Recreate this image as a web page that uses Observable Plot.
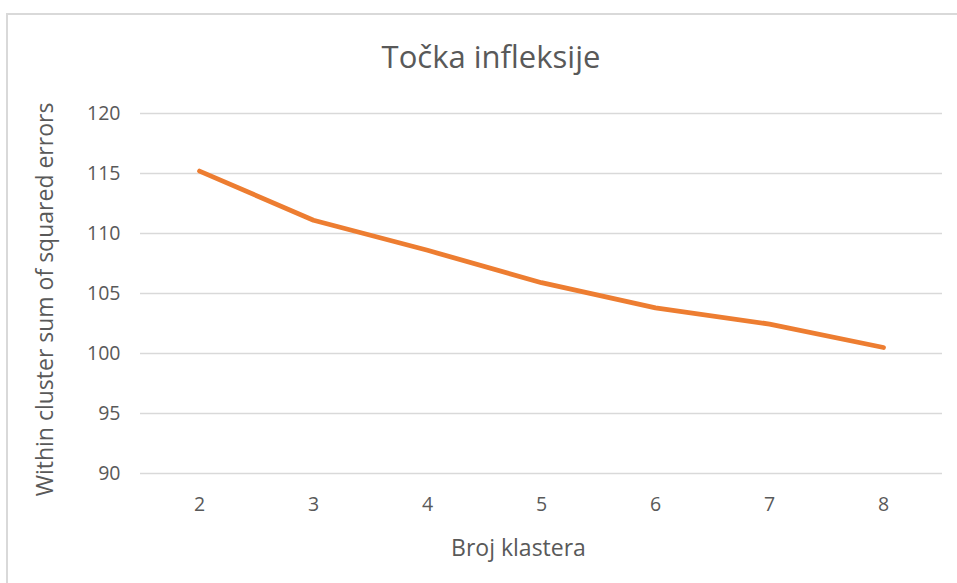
<!DOCTYPE html>
<html>
<head>
<meta charset="utf-8">
<script src="https://cdn.jsdelivr.net/npm/d3@7"></script>
<script src="https://cdn.jsdelivr.net/npm/@observablehq/plot@0.6"></script>
<style>
  html, body { margin: 0; padding: 0; background: #fff; overflow: hidden; }
  #wrap { position: relative; width: 957px; height: 583px; font-family: "Open Sans", sans-serif; }
  #frame { position: absolute; left: 6px; top: 13px; width: 1000px; height: 700px; border: 2px solid #d9d9d9; box-sizing: border-box; }
  #title { position: absolute; left: 0; width: 982px; top: 41px; text-align: center; font-size: 31px; color: #595959; line-height: 1; }
  #chart { position: absolute; left: 0; top: 0; }
</style>
</head>
<body>
<div id="wrap">
  <div id="frame"></div>
  <div id="title">Točka infleksije</div>
  <div id="chart"></div>
</div>
<script>
const clusters = ["2", "3", "4", "5", "6", "7", "8"];
const sse = [115.2, 111.1, 108.6, 105.9, 103.8, 102.45, 100.5];
const yTicks = [90, 95, 100, 105, 110, 115, 120];
const xLabel = "Broj klastera";
const yLabel = "Within cluster sum of squared errors";

const data = clusters.map((k, i) => ({k, v: sse[i]}));
const textColor = "#595959";

const chart = Plot.plot({
  width: 957,
  height: 583,
  marginLeft: 140,
  marginRight: 15,
  marginTop: 113,
  marginBottom: 110,
  style: {fontFamily: "Open Sans, sans-serif", fontSize: "19px", color: textColor, background: "transparent", overflow: "visible"},
  x: {type: "point", domain: clusters, padding: 0.5},
  y: {domain: [90, 120]},
  marks: [
    Plot.ruleY(yTicks, {stroke: "#d9d9d9", strokeWidth: 1.5}),
    Plot.axisY(yTicks, {tickSize: 0, tickPadding: 20, label: null, fill: textColor, fontSize: 19.5}),
    Plot.axisX(clusters, {tickSize: 0, tickPadding: 24, label: null, fill: textColor, fontSize: 19.5}),
    Plot.line(data, {x: "k", y: "v", stroke: "#ED7D31", strokeWidth: 4.8, strokeLinecap: "round", strokeLinejoin: "round"}),
    Plot.text([xLabel], {frameAnchor: "bottom", textAnchor: "middle", dx: -23, dy: 82, fill: textColor, fontSize: 23}),
    Plot.text([yLabel], {frameAnchor: "left", textAnchor: "middle", dx: -95, dy: 6, rotate: -90, fill: textColor, fontSize: 23})
  ]
});
document.getElementById("chart").appendChild(chart);
</script>
</body>
</html>
